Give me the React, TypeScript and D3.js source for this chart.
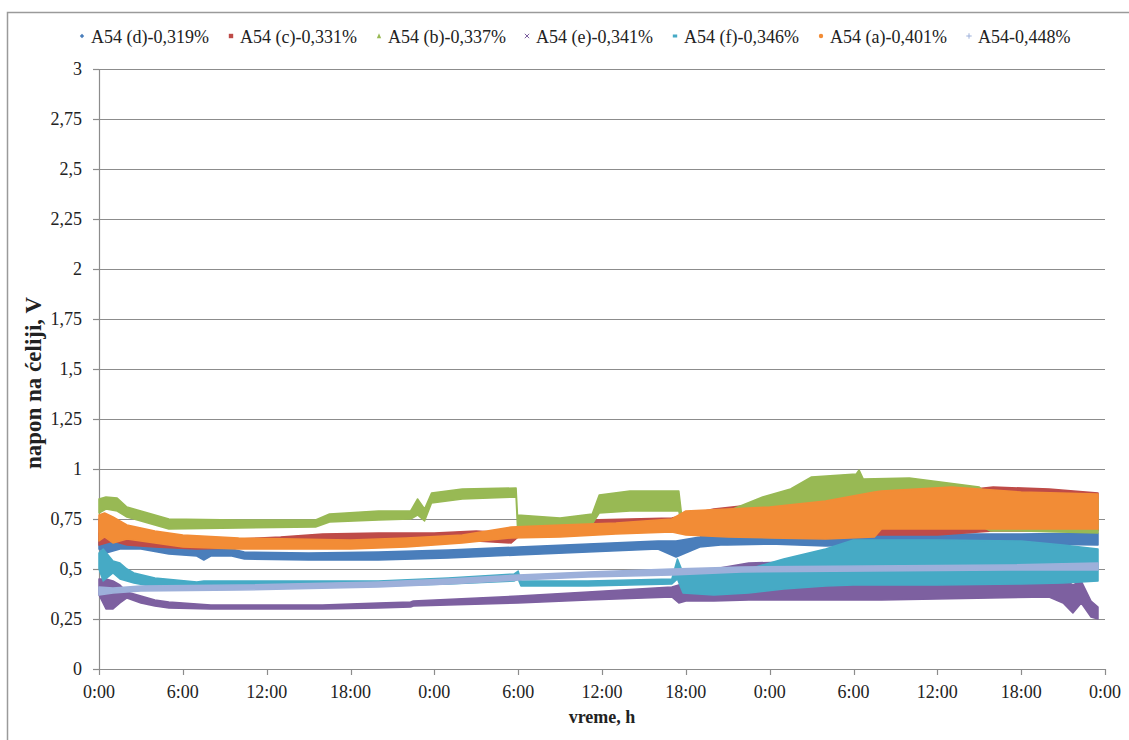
import React from "react";
import * as d3 from "d3";

type Pt = [number, number, number]; // [hour, low, high]

const seriesNames = [
  "A54 (d)-0,319%",
  "A54 (c)-0,331%",
  "A54 (b)-0,337%",
  "A54 (e)-0,341%",
  "A54 (f)-0,346%",
  "A54 (a)-0,401%",
  "A54-0,448%",
];
const seriesColors = ["#4A7EBB", "#BE4B48", "#98B954", "#7D60A0", "#46AAC5", "#F28C36", "#9DB0DA"];
const seriesMarkers = ["diamond", "square", "triangle", "x", "dash", "circle", "plus"];

const dSeries: Pt[] = [
  [0, 0.6, 0.68], [0.5, 0.58, 0.66], [1.5, 0.6, 0.66], [3, 0.6, 0.655], [5, 0.575, 0.625],
  [7, 0.565, 0.615], [7.5, 0.545, 0.61], [8, 0.565, 0.61], [9.5, 0.565, 0.6], [10.4, 0.55, 0.585],
  [15, 0.545, 0.58], [20, 0.545, 0.585], [25, 0.555, 0.595], [30, 0.57, 0.61], [35, 0.585, 0.625],
  [40, 0.6, 0.64], [41.3, 0.56, 0.64], [43, 0.61, 0.66], [44.5, 0.62, 0.7], [45, 0.62, 0.67],
  [48, 0.625, 0.67], [52, 0.615, 0.665], [56, 0.62, 0.67], [60, 0.625, 0.675], [66, 0.625, 0.675],
  [71.5, 0.62, 0.68],
];
const cSeries: Pt[] = [
  [0, 0.62, 0.75], [1, 0.64, 0.75], [2, 0.62, 0.7], [4, 0.61, 0.66], [7, 0.6, 0.645],
  [10, 0.605, 0.65], [13, 0.615, 0.66], [16, 0.625, 0.675], [20, 0.635, 0.68], [24, 0.64, 0.68],
  [27, 0.64, 0.69], [29.5, 0.63, 0.68], [30.5, 0.69, 0.74], [35, 0.705, 0.745], [41, 0.72, 0.755],
  [44, 0.7, 0.8], [48, 0.69, 0.83], [55, 0.67, 0.87], [60, 0.67, 0.88], [64, 0.69, 0.91],
  [68, 0.69, 0.9], [71.5, 0.69, 0.88],
];
const bSeries: Pt[] = [
  [0, 0.78, 0.85], [0.5, 0.8, 0.86], [1.3, 0.79, 0.855], [2, 0.76, 0.81], [3.5, 0.73, 0.78],
  [5, 0.7, 0.75], [10, 0.705, 0.745], [15.5, 0.71, 0.745], [16.5, 0.735, 0.775], [20, 0.745, 0.79],
  [22.3, 0.75, 0.79], [22.8, 0.77, 0.85], [23.3, 0.74, 0.8], [23.8, 0.83, 0.88], [26, 0.85, 0.9],
  [29.85, 0.86, 0.905], [29.95, 0.71, 0.77], [33, 0.71, 0.755], [35.3, 0.725, 0.775], [35.8, 0.78, 0.87],
  [38, 0.79, 0.89], [41.5, 0.79, 0.89], [41.7, 0.72, 0.77], [45, 0.73, 0.79], [47.5, 0.72, 0.86],
  [49.5, 0.72, 0.9], [51, 0.72, 0.96], [54.2, 0.72, 0.975], [54.4, 0.72, 0.995], [54.7, 0.72, 0.95],
  [58, 0.72, 0.955], [63, 0.72, 0.91], [63.8, 0.69, 0.86], [66, 0.69, 0.86], [71.5, 0.68, 0.85],
];
const eSeries: Pt[] = [
  [0, 0.37, 0.45], [0.5, 0.3, 0.45], [1, 0.3, 0.44], [1.5, 0.33, 0.42], [2, 0.355, 0.385],
  [3, 0.33, 0.365], [4, 0.315, 0.345], [5, 0.305, 0.335], [8, 0.3, 0.32], [16, 0.3, 0.32],
  [20, 0.305, 0.33], [22.3, 0.31, 0.335], [22.5, 0.315, 0.34], [30, 0.33, 0.365], [35, 0.345, 0.385],
  [41, 0.36, 0.41], [41.5, 0.33, 0.42], [42, 0.34, 0.46], [44, 0.34, 0.5], [46.5, 0.345, 0.53],
  [52, 0.345, 0.54], [56, 0.345, 0.5], [68, 0.36, 0.5], [69, 0.33, 0.45], [69.7, 0.28, 0.42],
  [70.3, 0.33, 0.44], [71, 0.26, 0.34], [71.5, 0.25, 0.31],
];
const fSeries: Pt[] = [
  [0, 0.5, 0.58], [0.3, 0.44, 0.6], [1, 0.48, 0.54], [1.5, 0.45, 0.53], [2, 0.44, 0.5],
  [2.5, 0.43, 0.48], [4, 0.41, 0.455], [7, 0.4, 0.435], [7.5, 0.41, 0.44], [12, 0.41, 0.44],
  [20, 0.415, 0.44], [25, 0.425, 0.455], [29.7, 0.44, 0.475], [30, 0.45, 0.49], [30.2, 0.415, 0.44],
  [35, 0.415, 0.44], [41, 0.425, 0.45], [41.4, 0.45, 0.55], [41.8, 0.38, 0.48], [44, 0.37, 0.5],
  [46.5, 0.38, 0.5], [49, 0.4, 0.55], [52, 0.415, 0.6], [54, 0.42, 0.645], [60, 0.42, 0.645],
  [66, 0.425, 0.64], [69, 0.43, 0.62], [71.5, 0.44, 0.6],
];
const aSeries: Pt[] = [
  [0, 0.64, 0.77], [0.4, 0.66, 0.78], [1, 0.63, 0.76], [1.5, 0.64, 0.74], [2, 0.65, 0.72],
  [4, 0.63, 0.69], [6, 0.61, 0.67], [10, 0.6, 0.655], [14, 0.6, 0.65], [18, 0.6, 0.645],
  [22, 0.61, 0.655], [26, 0.63, 0.67], [29.5, 0.655, 0.71], [33, 0.66, 0.72], [37, 0.675, 0.73],
  [41, 0.685, 0.75], [42, 0.67, 0.79], [45, 0.66, 0.8], [48, 0.655, 0.81], [52, 0.65, 0.84],
  [55.5, 0.66, 0.885], [56, 0.7, 0.89], [61, 0.7, 0.91], [66, 0.7, 0.885], [71.5, 0.7, 0.875],
];
const gSeries: Pt[] = [
  [0, 0.37, 0.41], [1, 0.38, 0.405], [3, 0.39, 0.415], [10, 0.395, 0.42], [20, 0.41, 0.435],
  [25, 0.425, 0.45], [30, 0.445, 0.47], [35, 0.46, 0.485], [41, 0.47, 0.5], [46, 0.485, 0.51],
  [55, 0.49, 0.515], [65, 0.495, 0.52], [71.5, 0.495, 0.53],
];
const allSeries = [dSeries, cSeries, bSeries, eSeries, fSeries, aSeries, gSeries];

const xTickHours = d3.range(0, 73, 6);
const xTickLabels = ["0:00", "6:00", "12:00", "18:00", "0:00", "6:00", "12:00", "18:00", "0:00", "6:00", "12:00", "18:00", "0:00"];
const yTickValues = d3.range(0, 3.001, 0.25);
const legendX = [82, 231, 379, 527, 675, 821, 969];

const FONT = '"Liberation Serif", "Times New Roman", Tinos, "DejaVu Serif", serif';
const GRID = "#8C8C8C";
const txt: React.CSSProperties = { fontFamily: FONT };

function Marker({ kind, cx, cy, color }: { kind: string; cx: number; cy: number; color: string }) {
  const s = 2.2;
  switch (kind) {
    case "diamond":
      return <path d={`M${cx},${cy - s}L${cx + s},${cy}L${cx},${cy + s}L${cx - s},${cy}Z`} fill={color} />;
    case "square":
      return <rect x={cx - s} y={cy - s} width={2 * s} height={2 * s} fill={color} />;
    case "triangle":
      return <path d={`M${cx},${cy - s - 0.5}L${cx + s},${cy + s}L${cx - s},${cy + s}Z`} fill={color} />;
    case "x":
      return (
        <path d={`M${cx - s},${cy - s}L${cx + s},${cy + s}M${cx + s},${cy - s}L${cx - s},${cy + s}`} stroke={color} strokeWidth={1} />
      );
    case "dash":
      return <rect x={cx - s} y={cy - 1.5} width={2 * s} height={3} fill={color} />;
    case "circle":
      return <circle cx={cx} cy={cy} r={s} fill={color} />;
    default:
      return (
        <path d={`M${cx - s - 0.5},${cy}L${cx + s + 0.5},${cy}M${cx},${cy - s - 0.5}L${cx},${cy + s + 0.5}`} stroke={color} strokeWidth={1} />
      );
  }
}

export default function App() {
  const width = 1129;
  const height = 740;
  const x = d3.scaleLinear().domain([0, 72]).range([99, 1105]);
  const y = d3.scaleLinear().domain([0, 3]).range([669, 69]);
  const area = d3
    .area<Pt>()
    .x((d) => x(d[0]))
    .y0((d) => y(d[1]))
    .y1((d) => y(d[2]))
    .curve(d3.curveLinear);
  const fmt = (v: number) => String(+v.toFixed(2)).replace(".", ",");

  return (
    <div style={{ position: "absolute", left: 0, top: 0 }}>
      <svg width={width} height={height} style={{ display: "block", background: "#fff", fontFamily: FONT }}>
        <rect x={7.5} y={12.5} width={1300} height={900} fill="#fff" stroke="#9A9A9A" strokeWidth={1.5} />
        {/* grid */}
        {yTickValues.map((v, i) => (
          <g key={"gy" + i}>
            <line x1={x(0)} x2={x(72)} y1={Math.round(y(v)) + 0.5} y2={Math.round(y(v)) + 0.5} stroke={GRID} strokeWidth={1.2} />
            <line x1={93} x2={x(0)} y1={Math.round(y(v)) + 0.5} y2={Math.round(y(v)) + 0.5} stroke={GRID} strokeWidth={1.2} />
            <text x={82} y={y(v) + 6} textAnchor="end" fontSize={18} fill="#222" style={txt}>
              {fmt(v)}
            </text>
          </g>
        ))}
        <line x1={x(0) + 0.5} x2={x(0) + 0.5} y1={y(3)} y2={y(0)} stroke={GRID} strokeWidth={1.2} />
        {xTickHours.map((h, i) => (
          <g key={"gx" + i}>
            <line x1={Math.round(x(h)) + 0.5} x2={Math.round(x(h)) + 0.5} y1={y(0)} y2={y(0) + 6} stroke={GRID} strokeWidth={1.2} />
            <text x={x(h)} y={698} textAnchor="middle" fontSize={18} fill="#222" style={txt}>
              {xTickLabels[i]}
            </text>
          </g>
        ))}
        {/* series */}
        {allSeries.map((s, i) => (
          <path
            key={"s" + i}
            d={area(s) || ""}
            fill={seriesColors[i]}
            stroke={seriesColors[i]}
            strokeWidth={1.5}
            strokeLinejoin="round"
          />
        ))}
        {/* legend */}
        {seriesNames.map((n, i) => (
          <g key={"l" + i}>
            <Marker kind={seriesMarkers[i]} cx={legendX[i]} cy={36} color={seriesColors[i]} />
            <text x={legendX[i] + 9} y={42.5} fontSize={18} fill="#222" style={txt}>
              {n}
            </text>
          </g>
        ))}
        {/* axis titles */}
        <text x={602} y={723} textAnchor="middle" fontSize={18} fontWeight="bold" fill="#222" style={txt}>
          vreme, h
        </text>
        <text transform="translate(41,383) rotate(-90)" textAnchor="middle" fontSize={23} fontWeight="bold" fill="#222" style={txt}>
          napon na ćeliji, V
        </text>
      </svg>
    </div>
  );
}
